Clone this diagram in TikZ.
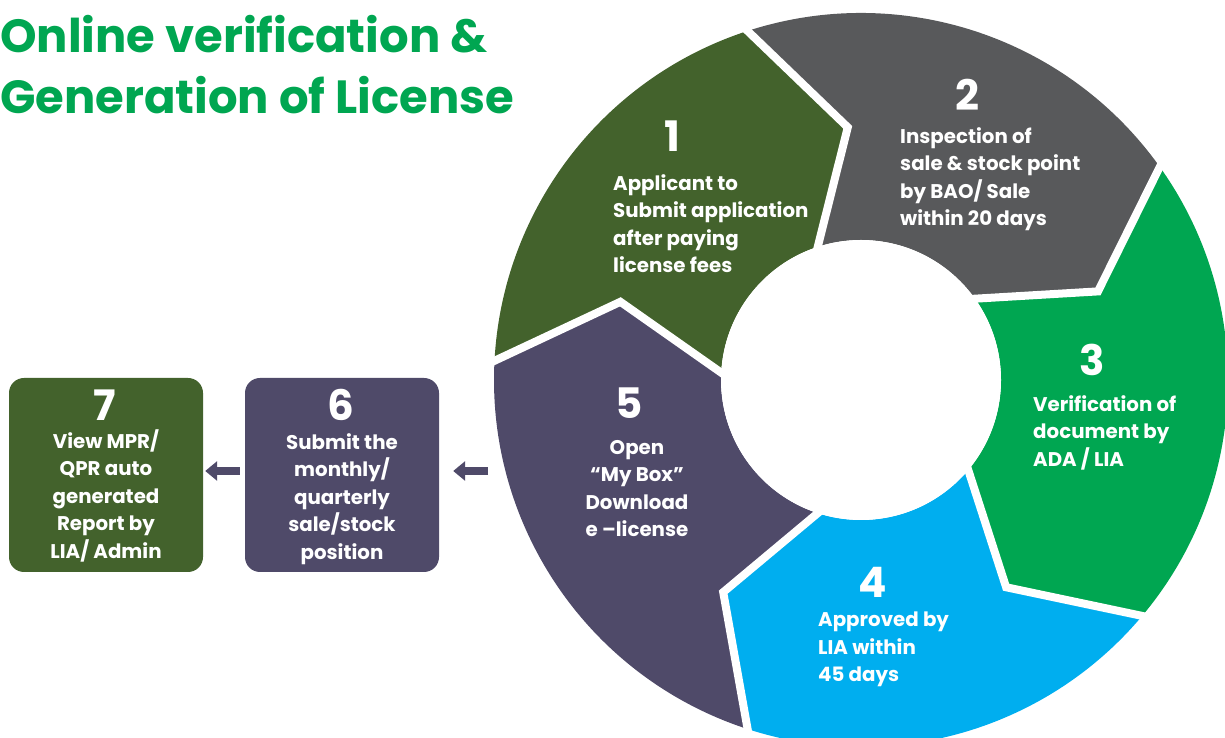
\documentclass[tikz,border=0pt]{standalone}
\usepackage{fontspec}
\setmainfont{Poppins}
\usetikzlibrary{arrows.meta}
\definecolor{cGreenD}{HTML}{43622C}
\definecolor{cGray}{HTML}{58595B}
\definecolor{cGreen}{HTML}{00A651}
\definecolor{cCyan}{HTML}{00AEEF}
\definecolor{cPurple}{HTML}{4F4A69}
\newcommand\ringseg[3]{%
  \fill[#3] (#1:367pt) arc[start angle=#1, end angle=#2, radius=367pt]
    -- ({#2-15}:253pt) -- (#2:140pt)
    arc[start angle=#2, end angle=#1, radius=140pt]
    -- ({#1-15}:253pt) -- cycle;}
\newcommand\ringsep[1]{%
  \draw[white, line width=8pt, line join=miter, shorten <=-15pt, shorten >=-15pt] (#1:367pt) -- ({#1-15}:253pt) -- (#1:140pt);}
\begin{document}
\begin{tikzpicture}[x=1pt,y=1pt,
  numtxt/.style={text=white, font=\fontsize{42}{42}\selectfont\bfseries, inner sep=0pt},
  bodytxt/.style={text=white, font=\fontsize{19.8}{27.5}\selectfont\bfseries, inner sep=0pt},
  titletxt/.style={anchor=base west, inner sep=0pt, text=cGreen, font=\fontsize{46.5}{46.5}\selectfont\bfseries},
  boxshape/.style={rounded corners=15pt, minimum width=194pt, minimum height=194pt, inner sep=0pt},
  flowarrow/.style={draw=cPurple, line width=8pt, -{Triangle[length=12pt,width=19pt]}}]
\useasboundingbox (0,0) rectangle (1225,738);
\clip (0,0) rectangle (1225,738);
% title
\node[titletxt] (title1) at (0,738-53) {Online verification \&};
\node[titletxt] (title2) at (0,738-114) {Generation of License};
% ring
\begin{scope}[shift={(861,358)}]
  \ringseg{177}{108}{cGreenD}
  \ringseg{108}{35.5}{cGray}
  \ringseg{35.5}{-40}{cGreen}
  \ringseg{-40}{-108}{cCyan}
  \ringseg{-108}{-183}{cPurple}
  \ringsep{177}\ringsep{108}\ringsep{35.5}\ringsep{-40}\ringsep{-108}
  \fill[white] (0,0) circle[radius=140pt];
\end{scope}
% ring texts
\node[numtxt] (n1) at (672,738-136) {1};
\node[bodytxt, anchor=north west, align=left] (t1) at (613,738-174) {Applicant to\\Submit application\\after paying\\license fees};
\node[numtxt] (n2) at (967,738-95) {2};
\node[bodytxt, anchor=north west, align=left] (t2) at (900,738-127) {Inspection of\\sale \& stock point\\by BAO/ Sale\\within 20 days};
\node[numtxt] (n3) at (1092,738-360) {3};
\node[bodytxt, anchor=north west, align=left] (t3) at (1033,738-395) {Verification of\\document by\\ADA / LIA};
\node[numtxt] (n4) at (873,738-582) {4};
\node[bodytxt, anchor=north west, align=left] (t4) at (818,738-612) {Approved by\\LIA within\\45 days};
\node[numtxt] (n5) at (629,738-403) {5};
\node[bodytxt, anchor=north, align=center] (t5) at (637,738-440) {Open\\“My Box”\\Download\\e –license};
% boxes
\node[boxshape, fill=cGreenD] (box7) at (106,738-475) {};
\node[boxshape, fill=cPurple] (box6) at (342,738-475) {};
\node[numtxt] (n7) at (105,738-405) {7};
\node[bodytxt, anchor=north, align=center] (t7) at (106,738-429) {View MPR/\\QPR auto\\generated\\Report by\\LIA/ Admin};
\node[numtxt] (n6) at (341,738-405) {6};
\node[bodytxt, anchor=north, align=center] (t6) at (342,738-433) {Submit the\\monthly/\\quarterly\\sale/stock\\position};
% arrows
\coordinate (ringL) at (488,738-471);
\draw[flowarrow] (ringL) -- ([xshift=14pt,yshift=4pt]box6.east);
\draw[flowarrow, shorten <=5pt, shorten >=2pt] ([yshift=4pt]box6.west) -- ([yshift=4pt]box7.east);
\end{tikzpicture}
\end{document}
